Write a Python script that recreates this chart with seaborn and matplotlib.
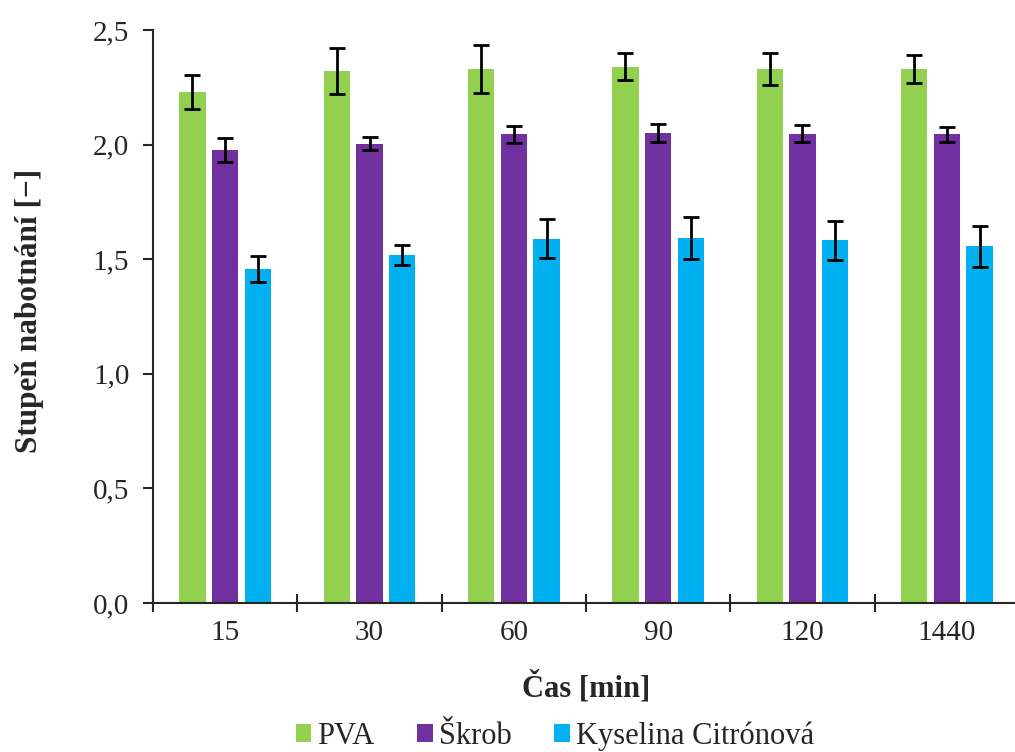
import pandas as pd
import numpy as np
import seaborn as sns
import matplotlib.pyplot as plt

# data
times = ['15', '30', '60', '90', '120', '1440']
series = ['PVA', 'Škrob', 'Kyselina Citrónová']
pva = [2.23, 2.32, 2.33, 2.34, 2.33, 2.33]
pva_err = [0.075, 0.10, 0.105, 0.058, 0.07, 0.063]
skrob = [1.975, 2.003, 2.045, 2.051, 2.048, 2.045]
skrob_err = [0.052, 0.028, 0.036, 0.038, 0.036, 0.033]
kys = [1.459, 1.52, 1.59, 1.591, 1.582, 1.556]
kys_err = [0.057, 0.044, 0.086, 0.091, 0.084, 0.088]
colors = ['#92D050', '#7030A0', '#00B0F0']

df = pd.DataFrame({
    'Čas': times * 3,
    'Série': np.repeat(series, len(times)),
    'Hodnota': pva + skrob + kys,
})
errs = [pva_err, skrob_err, kys_err]

sns.set_style('ticks')
plt.rcParams['font.family'] = ['Liberation Serif', 'DejaVu Serif']

fig = plt.figure(figsize=(10.15, 7.52), dpi=100)
ax = fig.add_axes([153 / 1015, 1 - 603 / 752, (1019 - 153) / 1015, (603 - 30) / 752])

sns.barplot(data=df, x='Čas', y='Hodnota', hue='Série', order=times,
            hue_order=series, palette=colors, width=0.68, gap=0.2,
            errorbar=None, saturation=1, edgecolor='none', ax=ax)

# error bars on top of the bars seaborn drew
for cont, e in zip(ax.containers, errs):
    xs = [p.get_x() + p.get_width() / 2 for p in cont.patches]
    ys = [p.get_height() for p in cont.patches]
    ax.errorbar(xs, ys, yerr=e, fmt='none', ecolor='black', elinewidth=2,
                capsize=6, capthick=2, zorder=5)

ax.set_xlim(-0.5, 5.5)
ax.set_ylim(0, 2.5)
ax.set_yticks(np.arange(0, 2.51, 0.5))
ax.set_yticklabels([f'{v:.1f}'.replace('.', ',') for v in np.arange(0, 2.51, 0.5)])
ax.set_xticks(np.arange(-0.5, 5.6, 1))
ax.set_xticklabels([])
ax.set_xticks(range(len(times)), minor=True)
ax.set_xticklabels(times, minor=True)
ax.tick_params(axis='x', which='major', direction='inout', length=13, width=1.5)
ax.tick_params(axis='x', which='minor', length=0, pad=12, labelsize=21)
ax.tick_params(axis='y', direction='out', length=7, width=1.5, labelsize=21, pad=10)

for s in ['top', 'right']:
    ax.spines[s].set_visible(False)
ax.spines['left'].set_linewidth(1.5)
ax.spines['bottom'].set_linewidth(1.5)

ax.set_xlabel('Čas [min]', fontsize=22, fontweight='bold')
ax.xaxis.set_label_coords(0.5, -0.118)
ax.set_ylabel('Stupeň nabotnání [−]', fontsize=22.5, fontweight='bold')
ax.yaxis.set_label_coords(-0.126, 0.51)

ax.legend(loc='center', bbox_to_anchor=(0.464, -0.232), ncol=3,
          frameon=False, fontsize=22, handlelength=0.5, handleheight=0.5,
          handletextpad=0.2, columnspacing=1.4)

fig.savefig('out.png', dpi=100)
